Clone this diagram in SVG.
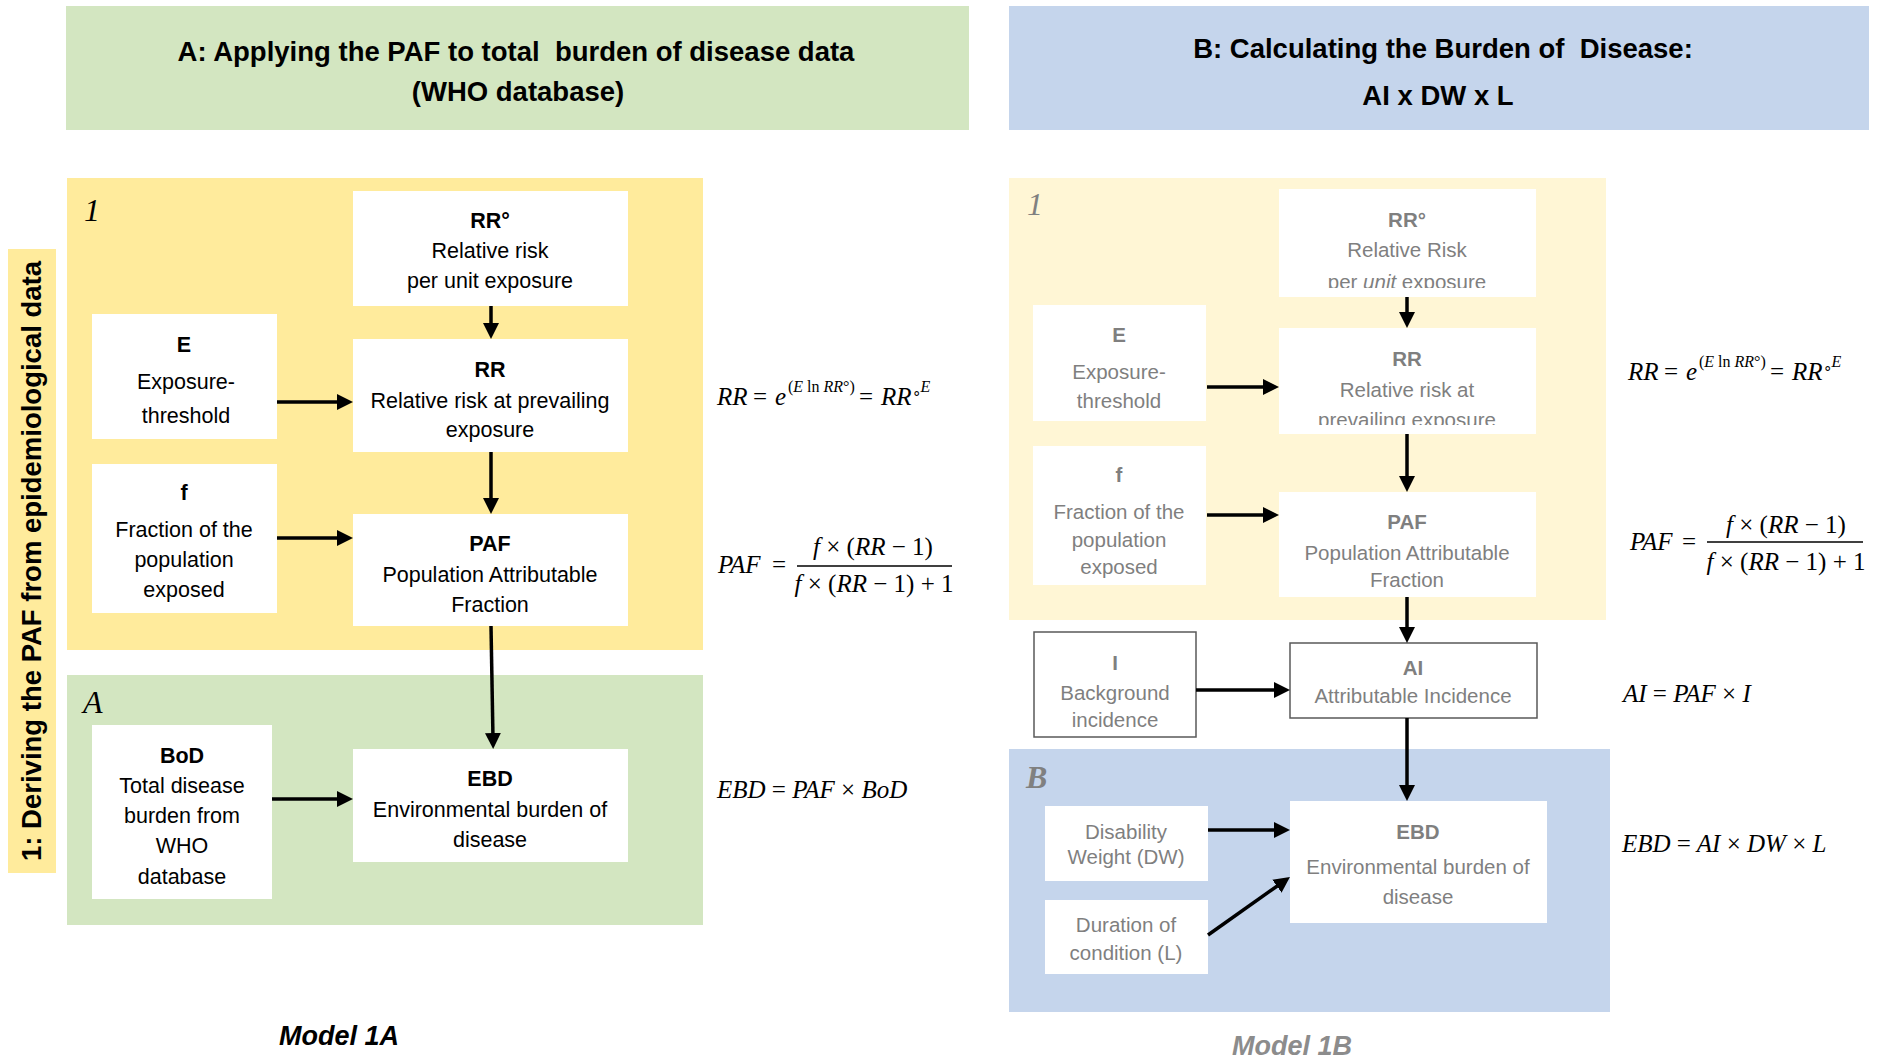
<svg xmlns="http://www.w3.org/2000/svg" width="1883" height="1060" viewBox="0 0 1883 1060">
<defs>
<style>
.t{font-family:"Liberation Sans",Arial,sans-serif;font-size:21.5px;text-anchor:middle;fill:#000}
.g{fill:#7F7F7F;font-size:20.5px}
.b{font-weight:bold}
.hd{font-family:"Liberation Sans",Arial,sans-serif;font-size:27.5px;font-weight:bold;text-anchor:middle;fill:#000}
.box{fill:#fff}
.bord{fill:#fff;stroke:#595959;stroke-width:1.5}
.m{font-family:"Liberation Serif","Times New Roman",serif;font-size:25px;font-style:italic;fill:#000}
.up{font-style:normal}
.lbl{font-family:"Liberation Serif","Times New Roman",serif;font-size:32px;font-style:italic}
.conn{stroke:#000;stroke-width:3.5;fill:none;marker-end:url(#ah)}
.frac{stroke:#000;stroke-width:1.3}
</style>
<marker id="ah" markerUnits="userSpaceOnUse" viewBox="0 0 16 16" markerWidth="16" markerHeight="16" refX="6" refY="8" orient="auto">
<path d="M0,0 L16,8 L0,16 z" fill="#000"/>
</marker>
<clipPath id="clipRR0"><rect x="1279" y="189" width="257" height="99"/></clipPath>
<clipPath id="clipRR"><rect x="1279" y="328" width="257" height="97"/></clipPath>
</defs>
<rect width="1883" height="1060" fill="#fff"/>

<!-- headers -->
<g id="headerA">
<rect x="66" y="6" width="903" height="124" fill="#D3E6C1"/>
<text class="hd" x="516" y="61" xml:space="preserve">A: Applying the PAF to total  burden of disease data</text>
<text class="hd" x="518" y="101">(WHO database)</text>
</g>
<g id="headerB">
<rect x="1009" y="6" width="860" height="124" fill="#C5D5EC"/>
<text class="hd" x="1443" y="58" xml:space="preserve">B: Calculating the Burden of  Disease:</text>
<text class="hd" x="1438" y="105">AI x DW x L</text>
</g>

<!-- side label -->
<g id="sideLabel">
<rect x="8" y="249" width="48" height="624" fill="#FFEB9C"/>
<text transform="translate(41,561) rotate(-90)" font-family="Liberation Sans,Arial,sans-serif" font-size="27.5" font-weight="bold" text-anchor="middle">1: Deriving the PAF from epidemiological data</text>
</g>

<!-- panels -->
<g id="panel1A">
<rect x="67" y="178" width="636" height="472" fill="#FFEB9C"/>
<text class="lbl" x="84" y="221" font-size="35">1</text>
</g>
<g id="panelA">
<rect x="67" y="675" width="636" height="250" fill="#D3E6C1"/>
<text class="lbl" x="83" y="713" font-size="33">A</text>
</g>
<g id="panel1B">
<rect x="1009" y="178" width="597" height="442" fill="#FFF6D5"/>
<text class="lbl" x="1027" y="215" font-size="33" fill="#808080">1</text>
</g>
<g id="panelB">
<rect x="1009" y="749" width="601" height="263" fill="#C5D5EC"/>
<text class="lbl" x="1026" y="788" fill="#808080" font-weight="bold">B</text>
</g>

<!-- left nodes -->
<g id="L_RR0">
<rect class="box" x="353" y="191" width="275" height="115"/>
<text class="t"><tspan class="b" x="490" y="228">RR°</tspan><tspan x="490" y="258">Relative risk</tspan><tspan x="490" y="288">per unit exposure</tspan></text>
</g>
<g id="L_E">
<rect class="box" x="92" y="314" width="185" height="125"/>
<text class="t"><tspan class="b" x="184" y="352">E</tspan><tspan x="186" y="389">Exposure-</tspan><tspan x="186" y="423">threshold</tspan></text>
</g>
<g id="L_RR">
<rect class="box" x="353" y="339" width="275" height="113"/>
<text class="t"><tspan class="b" x="490" y="377">RR</tspan><tspan x="490" y="408">Relative risk at prevailing</tspan><tspan x="490" y="437">exposure</tspan></text>
</g>
<g id="L_f">
<rect class="box" x="92" y="464" width="185" height="149"/>
<text class="t"><tspan class="b" x="184" y="500">f</tspan><tspan x="184" y="537">Fraction of the</tspan><tspan x="184" y="567">population</tspan><tspan x="184" y="597">exposed</tspan></text>
</g>
<g id="L_PAF">
<rect class="box" x="353" y="514" width="275" height="112"/>
<text class="t"><tspan class="b" x="490" y="551">PAF</tspan><tspan x="490" y="582">Population Attributable</tspan><tspan x="490" y="612">Fraction</tspan></text>
</g>
<g id="L_BoD">
<rect class="box" x="92" y="725" width="180" height="174"/>
<text class="t"><tspan class="b" x="182" y="763">BoD</tspan><tspan x="182" y="793">Total disease</tspan><tspan x="182" y="823">burden from</tspan><tspan x="182" y="853">WHO</tspan><tspan x="182" y="884">database</tspan></text>
</g>
<g id="L_EBD">
<rect class="box" x="353" y="749" width="275" height="113"/>
<text class="t"><tspan class="b" x="490" y="786">EBD</tspan><tspan x="490" y="817">Environmental burden of</tspan><tspan x="490" y="847">disease</tspan></text>
</g>

<!-- right nodes -->
<g id="R_RR0">
<rect class="box" x="1279" y="189" width="257" height="108"/>
<text class="t g" clip-path="url(#clipRR0)"><tspan class="b" x="1407" y="227">RR°</tspan><tspan x="1407" y="257">Relative Risk</tspan><tspan x="1407" y="289">per <tspan font-style="italic">unit</tspan> exposure</tspan></text>
</g>
<g id="R_E">
<rect class="box" x="1033" y="305" width="173" height="116"/>
<text class="t g"><tspan class="b" x="1119" y="342">E</tspan><tspan x="1119" y="379">Exposure-</tspan><tspan x="1119" y="408">threshold</tspan></text>
</g>
<g id="R_RR">
<rect class="box" x="1279" y="328" width="257" height="106"/>
<text class="t g" clip-path="url(#clipRR)"><tspan class="b" x="1407" y="366">RR</tspan><tspan x="1407" y="397">Relative risk at</tspan><tspan x="1407" y="427">prevailing exposure</tspan></text>
</g>
<g id="R_f">
<rect class="box" x="1033" y="446" width="173" height="139"/>
<text class="t g"><tspan class="b" x="1119" y="482">f</tspan><tspan x="1119" y="519">Fraction of the</tspan><tspan x="1119" y="547">population</tspan><tspan x="1119" y="574">exposed</tspan></text>
</g>
<g id="R_PAF">
<rect class="box" x="1279" y="492" width="257" height="105"/>
<text class="t g"><tspan class="b" x="1407" y="529">PAF</tspan><tspan x="1407" y="560">Population Attributable</tspan><tspan x="1407" y="587">Fraction</tspan></text>
</g>
<g id="R_I">
<rect class="bord" x="1034" y="632" width="162" height="105"/>
<text class="t g"><tspan class="b" x="1115" y="670">I</tspan><tspan x="1115" y="700">Background</tspan><tspan x="1115" y="727">incidence</tspan></text>
</g>
<g id="R_AI">
<rect class="bord" x="1290" y="643" width="247" height="75"/>
<text class="t g"><tspan class="b" x="1413" y="675">AI</tspan><tspan x="1413" y="703">Attributable Incidence</tspan></text>
</g>
<g id="R_DW">
<rect class="box" x="1045" y="806" width="163" height="75"/>
<text class="t g"><tspan x="1126" y="839">Disability</tspan><tspan x="1126" y="864">Weight (DW)</tspan></text>
</g>
<g id="R_L">
<rect class="box" x="1045" y="900" width="163" height="74"/>
<text class="t g"><tspan x="1126" y="932">Duration of</tspan><tspan x="1126" y="960">condition (L)</tspan></text>
</g>
<g id="R_EBD">
<rect class="box" x="1290" y="801" width="257" height="122"/>
<text class="t g"><tspan class="b" x="1418" y="839">EBD</tspan><tspan x="1418" y="874">Environmental burden of</tspan><tspan x="1418" y="904">disease</tspan></text>
</g>

<!-- connectors -->
<g id="connectors">
<line class="conn" x1="491" y1="306" x2="491" y2="329"/>
<line class="conn" x1="277" y1="402" x2="343" y2="402"/>
<line class="conn" x1="491" y1="452" x2="491" y2="504"/>
<line class="conn" x1="277" y1="538" x2="343" y2="538"/>
<line class="conn" x1="491" y1="626" x2="493" y2="739"/>
<line class="conn" x1="272" y1="799" x2="343" y2="799"/>
<line class="conn" x1="1407" y1="297" x2="1407" y2="318"/>
<line class="conn" x1="1207" y1="387" x2="1269" y2="387"/>
<line class="conn" x1="1407" y1="434" x2="1407" y2="482"/>
<line class="conn" x1="1207" y1="515" x2="1269" y2="515"/>
<line class="conn" x1="1407" y1="597" x2="1407" y2="633"/>
<line class="conn" x1="1196" y1="690" x2="1280" y2="690"/>
<line class="conn" x1="1407" y1="718" x2="1407" y2="791"/>
<line class="conn" x1="1208" y1="830" x2="1280" y2="830"/>
<line class="conn" x1="1208" y1="935" x2="1281.8" y2="882.7"/>
</g>

<!-- formulas left -->
<g id="formulasLeft">
<text class="m" y="405" font-size="26"><tspan x="717">RR</tspan><tspan x="753" class="up">=</tspan><tspan x="775">e</tspan><tspan x="788" y="392" font-size="16"><tspan class="up">(</tspan>E <tspan class="up">ln</tspan> RR<tspan class="up">°)</tspan></tspan><tspan x="859" y="405" class="up">=</tspan><tspan x="881">RR</tspan><tspan class="up" font-size="15" y="398">∘</tspan><tspan font-size="16" y="392">E</tspan></text>
<text class="m" y="573" font-size="26"><tspan x="718">PAF</tspan><tspan x="772" class="up">=</tspan></text>
<text class="m" x="873" y="555" text-anchor="middle">f <tspan class="up">× (</tspan>RR <tspan class="up">− 1)</tspan></text>
<line class="frac" x1="797" y1="566" x2="952" y2="566"/>
<text class="m" x="874" y="592" text-anchor="middle">f <tspan class="up">× (</tspan>RR <tspan class="up">− 1) + 1</tspan></text>
<text class="m" x="717" y="798" font-size="26">EBD <tspan class="up">=</tspan> PAF <tspan class="up">×</tspan> BoD</text>
</g>

<!-- formulas right -->
<g id="formulasRight">
<text class="m" y="380" font-size="26"><tspan x="1628">RR</tspan><tspan x="1664" class="up">=</tspan><tspan x="1686">e</tspan><tspan x="1699" y="367" font-size="16"><tspan class="up">(</tspan>E <tspan class="up">ln</tspan> RR<tspan class="up">°)</tspan></tspan><tspan x="1770" y="380" class="up">=</tspan><tspan x="1792">RR</tspan><tspan class="up" font-size="15" y="373">∘</tspan><tspan font-size="16" y="367">E</tspan></text>
<text class="m" y="550" font-size="26"><tspan x="1630">PAF</tspan><tspan x="1682" class="up">=</tspan></text>
<text class="m" x="1786" y="533" text-anchor="middle">f <tspan class="up">× (</tspan>RR <tspan class="up">− 1)</tspan></text>
<line class="frac" x1="1707" y1="542" x2="1863" y2="542"/>
<text class="m" x="1786" y="570" text-anchor="middle">f <tspan class="up">× (</tspan>RR <tspan class="up">− 1) + 1</tspan></text>
<text class="m" x="1623" y="702">AI <tspan class="up">=</tspan> PAF <tspan class="up">×</tspan> I</text>
<text class="m" x="1622" y="852">EBD <tspan class="up">=</tspan> AI <tspan class="up">×</tspan> DW <tspan class="up">×</tspan> L</text>
</g>

<!-- captions -->
<g id="captions">
<text x="339" y="1045" font-family="Liberation Sans,Arial,sans-serif" font-size="27" font-weight="bold" font-style="italic" text-anchor="middle">Model 1A</text>
<text x="1292" y="1055" font-family="Liberation Sans,Arial,sans-serif" font-size="27" font-weight="bold" font-style="italic" text-anchor="middle" fill="#8C8C8C">Model 1B</text>
</g>
</svg>
